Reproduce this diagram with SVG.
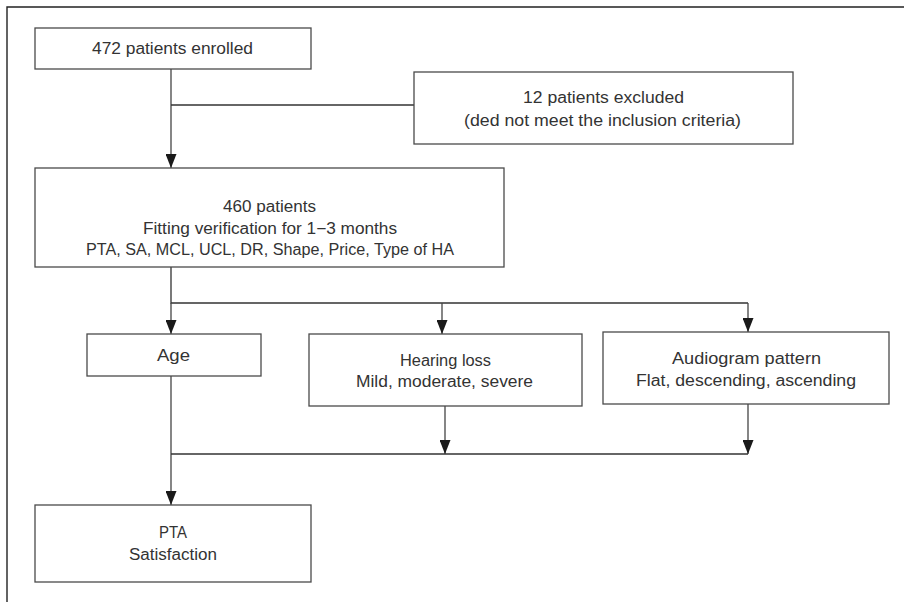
<svg xmlns="http://www.w3.org/2000/svg" width="904" height="602" viewBox="0 0 904 602">
<defs>
<marker id="arr" viewBox="0 0 14 11" refX="14" refY="5.5" markerWidth="14" markerHeight="11" markerUnits="userSpaceOnUse" orient="auto">
<path d="M0,0 L14,5.5 L0,11 Z" fill="#1a1a1a"/>
</marker>
<style>
.box{fill:#fff;stroke:#4a4a4a;stroke-width:1.3}
.t{font-family:"Liberation Sans",Arial,sans-serif;font-size:16px;fill:#333;text-anchor:middle}
.ln{fill:none;stroke:#333;stroke-width:1.3}
.ar{fill:none;stroke:#444;stroke-width:1.3;marker-end:url(#arr)}
.frame{fill:none;stroke:#222;stroke-width:1.4}
</style>
</defs>
<rect width="904" height="602" fill="#fff"/>
<path class="frame" d="M7,602 V7 H904"/>
<g id="connectors">
<path class="ar" d="M171,69 V168"/>
<path class="ln" d="M171,105 H414"/>
<path class="ln" d="M171,267 V303 H748"/>
<path class="ar" d="M171,303 V334"/>
<path class="ar" d="M442,303 V334"/>
<path class="ar" d="M748,303 V332"/>
<path class="ar" d="M171,376 V505"/>
<path class="ar" d="M445,406 V454"/>
<path class="ar" d="M748,404 V454"/>
<path class="ln" d="M171,454 H748"/>
</g>
<g id="enrolled">
<rect class="box" x="35" y="28" width="276" height="41"/>
<text class="t" x="172.5" y="54" textLength="161" lengthAdjust="spacingAndGlyphs">472 patients enrolled</text>
</g>
<g id="excluded">
<rect class="box" x="414" y="72" width="379" height="72"/>
<text class="t" x="603.5" y="103" textLength="161" lengthAdjust="spacingAndGlyphs">12 patients excluded</text>
<text class="t" x="602.5" y="126" textLength="277" lengthAdjust="spacingAndGlyphs">(ded not meet the inclusion criteria)</text>
</g>
<g id="patients460">
<rect class="box" x="35" y="168" width="469" height="99"/>
<text class="t" x="269.5" y="212" textLength="93" lengthAdjust="spacingAndGlyphs">460 patients</text>
<text class="t" x="270" y="234" textLength="254" lengthAdjust="spacingAndGlyphs">Fitting verification for 1−3 months</text>
<text class="t" x="270" y="255" textLength="368" lengthAdjust="spacingAndGlyphs">PTA, SA, MCL, UCL, DR, Shape, Price, Type of HA</text>
</g>
<g id="age">
<rect class="box" x="87" y="334" width="174" height="42"/>
<text class="t" x="173.5" y="361" textLength="33" lengthAdjust="spacingAndGlyphs">Age</text>
</g>
<g id="hearing">
<rect class="box" x="309" y="334" width="273" height="72"/>
<text class="t" x="445.5" y="366" textLength="91" lengthAdjust="spacingAndGlyphs">Hearing loss</text>
<text class="t" x="444.5" y="387" textLength="177" lengthAdjust="spacingAndGlyphs">Mild, moderate, severe</text>
</g>
<g id="audiogram">
<rect class="box" x="603" y="332" width="286" height="72"/>
<text class="t" x="746.5" y="364" textLength="149" lengthAdjust="spacingAndGlyphs">Audiogram pattern</text>
<text class="t" x="746" y="386" textLength="220" lengthAdjust="spacingAndGlyphs">Flat, descending, ascending</text>
</g>
<g id="outcome">
<rect class="box" x="35" y="505" width="276" height="77"/>
<text class="t" x="173" y="538" textLength="28" lengthAdjust="spacingAndGlyphs">PTA</text>
<text class="t" x="173" y="560" textLength="88" lengthAdjust="spacingAndGlyphs">Satisfaction</text>
</g>
</svg>
